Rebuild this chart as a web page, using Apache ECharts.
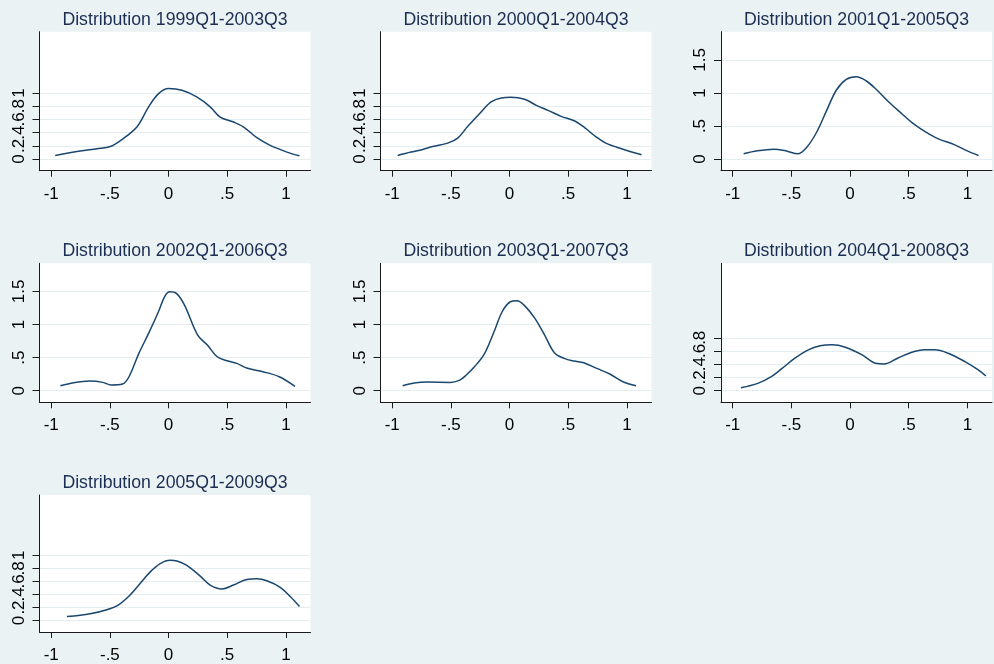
<!DOCTYPE html>
<html>
<head>
<meta charset="utf-8">
<script src="https://cdn.jsdelivr.net/npm/echarts@6/dist/echarts.min.js"></script>
<style>
html,body{margin:0;padding:0;background:#EAF2F3;}
#chart{width:994px;height:664px;}
</style>
</head>
<body>
<div id="chart"></div>
<script>
// ---- data ----
const titles = [
  'Distribution 1999Q1-2003Q3',
  'Distribution 2000Q1-2004Q3',
  'Distribution 2001Q1-2005Q3',
  'Distribution 2002Q1-2006Q3',
  'Distribution 2003Q1-2007Q3',
  'Distribution 2004Q1-2008Q3',
  'Distribution 2005Q1-2009Q3'
];
const xTicks = [-1, -0.5, 0, 0.5, 1];
const yTicksFine = [0, 0.2, 0.4, 0.6, 0.8, 1];
const yTicksFine6 = [0, 0.2, 0.4, 0.6, 0.8];
const yTicksCoarse = [0, 0.5, 1, 1.5];

const p1x = [-0.966,-0.753,-0.61,-0.497,-0.41,-0.27,-0.17,-0.085,0,0.114,0.24,0.355,0.44,0.554,0.64,0.753,0.866,1.009,1.116];
const p1y = [0.056,0.121,0.157,0.19,0.28,0.485,0.79,0.99,1.066,1.04,0.94,0.79,0.636,0.56,0.485,0.323,0.207,0.106,0.05];

const p2x = [-0.954,-0.84,-0.74,-0.655,-0.527,-0.442,-0.356,-0.256,-0.157,-0.071,0.014,0.128,0.228,0.328,0.44,0.556,0.64,0.74,0.82,0.954,1.125];
const p2y = [0.056,0.106,0.146,0.19,0.242,0.318,0.495,0.687,0.864,0.924,0.934,0.904,0.813,0.737,0.646,0.576,0.475,0.333,0.242,0.157,0.066];

const p3x = [-0.907,-0.79,-0.65,-0.537,-0.447,-0.369,-0.285,-0.2,-0.116,-0.032,0.052,0.136,0.22,0.332,0.444,0.528,0.64,0.753,0.893,1.005,1.095];
const p3y = [0.08,0.125,0.15,0.12,0.08,0.18,0.406,0.733,1.044,1.204,1.244,1.184,1.059,0.858,0.682,0.552,0.416,0.306,0.216,0.12,0.055];

const p4x = [-0.922,-0.81,-0.671,-0.56,-0.49,-0.393,-0.337,-0.253,-0.17,-0.086,-0.031,0.011,0.067,0.136,0.248,0.331,0.415,0.499,0.582,0.666,0.805,0.944,1.078];
const p4y = [0.075,0.121,0.146,0.126,0.086,0.1,0.211,0.564,0.866,1.193,1.43,1.495,1.47,1.293,0.84,0.69,0.513,0.453,0.413,0.342,0.287,0.211,0.065];

const p5x = [-0.911,-0.813,-0.702,-0.507,-0.424,-0.369,-0.299,-0.216,-0.132,-0.063,0.007,0.063,0.132,0.216,0.299,0.382,0.466,0.549,0.633,0.744,0.855,0.967,1.078];
const p5y = [0.075,0.116,0.131,0.126,0.161,0.237,0.362,0.554,0.891,1.193,1.344,1.359,1.278,1.092,0.84,0.574,0.488,0.448,0.423,0.337,0.252,0.136,0.075];

const p6x = [-0.93,-0.786,-0.671,-0.585,-0.47,-0.356,-0.255,-0.155,-0.04,0.103,0.218,0.29,0.405,0.52,0.634,0.72,0.835,0.979,1.093,1.157];
const p6y = [0.046,0.111,0.213,0.329,0.491,0.618,0.678,0.694,0.658,0.542,0.415,0.405,0.491,0.577,0.618,0.618,0.567,0.44,0.314,0.223];

const p7x = [-0.866,-0.668,-0.526,-0.426,-0.327,-0.241,-0.156,-0.071,0.014,0.071,0.156,0.27,0.355,0.455,0.554,0.668,0.753,0.838,0.952,1.037,1.116];
const p7y = [0.061,0.106,0.167,0.242,0.394,0.571,0.747,0.874,0.924,0.914,0.848,0.682,0.545,0.485,0.545,0.631,0.641,0.611,0.51,0.369,0.217];

const panelsX = [p1x, p2x, p3x, p4x, p5x, p6x, p7x];
const panelsY = [p1y, p2y, p3y, p4y, p5y, p6y, p7y];
const panelYTicks = [yTicksFine, yTicksFine, yTicksCoarse, yTicksCoarse, yTicksCoarse, yTicksFine6, yTicksFine];

// ---- layout ----
const colLeft = [39.5, 380.5, 721];
const rowTop = [31.7, 263.3, 495];
const W = 271, H = 139;
const Y_MIN = -0.175, Y_MAX = 1.925;
const PAD_LO = -0.17, PAD_HI = 1.92; // blank label slots so every real label stays visible
const FONT = "'Liberation Sans', Arial, Helvetica, sans-serif";
const fmt = v => String(+v.toFixed(4)).replace(/^(-?)0\./, '$1.');

const grids = [], xAxes = [], yAxes = [], series = [], titleArr = [];
for (let i = 0; i < 7; i++) {
  const r = Math.floor(i / 3), c = i % 3;
  const ticks = panelYTicks[i];
  grids.push({
    left: colLeft[c], top: rowTop[r], width: W, height: H,
    show: true, backgroundColor: '#ffffff', borderWidth: 0, containLabel: false
  });
  titleArr.push({
    text: titles[i],
    left: colLeft[c] + W / 2,
    top: rowTop[r] - 21,
    textAlign: 'center',
    padding: 0,
    textStyle: {fontFamily: FONT, fontSize: 17.7, fontWeight: 'normal', color: '#1c2d53'}
  });
  xAxes.push({
    type: 'value', gridIndex: i, min: -1.1, max: 1.21,
    axisLine: {show: true, onZero: false, lineStyle: {color: '#1a1a1a', width: 1}},
    axisTick: {show: true, length: 6, customValues: xTicks, lineStyle: {color: '#1a1a1a'}},
    axisLabel: {show: true, customValues: xTicks, formatter: fmt, margin: 15,
      showMinLabel: true, showMaxLabel: true,
      fontFamily: FONT, fontSize: 17, color: '#000'},
    splitLine: {show: false}
  });
  yAxes.push({
    type: 'value', gridIndex: i, min: Y_MIN, max: Y_MAX,
    axisLine: {show: true, onZero: false, lineStyle: {color: '#1a1a1a', width: 1}},
    axisTick: {show: true, length: 7, customValues: ticks, lineStyle: {color: '#1a1a1a'}},
    axisLabel: {show: true, customValues: [PAD_LO].concat(ticks, [PAD_HI]),
      formatter: v => (ticks.some(t => Math.abs(t - v) < 1e-6) ? fmt(v) : ''),
      rotate: 90, margin: 12,
      hideOverlap: false, fontFamily: FONT, fontSize: 17, color: '#000'},
    splitLine: {show: true, lineStyle: {color: '#E3ECEF', width: 1}}
  });
  series.push({
    type: 'line', xAxisIndex: i, yAxisIndex: i,
    data: panelsX[i].map((x, k) => [x, panelsY[i][k]]),
    smooth: 0.35, showSymbol: false, symbol: 'none',
    lineStyle: {color: '#1a476f', width: 1.5},
    silent: true, animation: false
  });
}

const chart = echarts.init(document.getElementById('chart'), null, {renderer: 'canvas'});
chart.setOption({
  backgroundColor: '#EAF2F3',
  animation: false,
  title: titleArr,
  grid: grids,
  xAxis: xAxes,
  yAxis: yAxes,
  series: series
});
</script>
</body>
</html>
